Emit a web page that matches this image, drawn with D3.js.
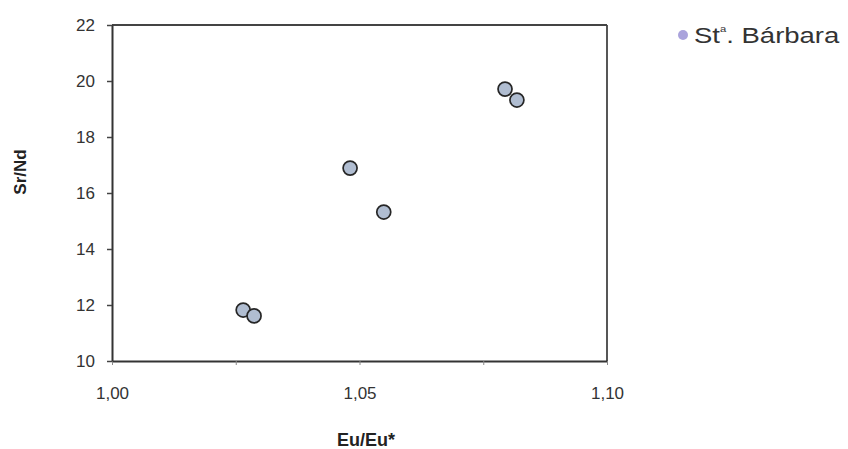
<!DOCTYPE html>
<html><head><meta charset="utf-8">
<script src="https://cdn.jsdelivr.net/npm/d3@7"></script>
<style>body{margin:0;background:#fff}svg{display:block}</style>
</head><body>
<svg id="c" width="848" height="449"></svg>
<script>
const seriesName = "St";
const euEu = [1.0265, 1.0287, 1.0481, 1.0549, 1.0794, 1.0818];
const srNd = [11.82, 11.61, 16.89, 15.32, 19.71, 19.32];
const xTicks = [1.00, 1.025, 1.05, 1.075, 1.10];
const xLabels = ["1,00", "", "1,05", "", "1,10"];
const yTicks = [10, 12, 14, 16, 18, 20, 22];

const svg = d3.select("#c");
const m = {l:112, r:607, t:25, b:361};
const x = d3.scaleLinear().domain([1.0, 1.1]).range([m.l, m.r]);
const y = d3.scaleLinear().domain([10, 22]).range([m.b, m.t]);
const font = "Liberation Sans, Arial, sans-serif";

// frame top/right
svg.append("line").attr("x1", m.l).attr("x2", m.r).attr("y1", m.t).attr("y2", m.t).attr("stroke", "#444").attr("stroke-width", 1.8);
svg.append("line").attr("x1", m.r).attr("x2", m.r).attr("y1", m.t).attr("y2", m.b).attr("stroke", "#444").attr("stroke-width", 1.8);

const xa = svg.append("g").attr("transform", `translate(0,${m.b})`)
  .call(d3.axisBottom(x).tickValues(xTicks).tickSize(4).tickSizeOuter(0).tickPadding(22)
    .tickFormat((d,i) => xLabels[i]));
const ya = svg.append("g").attr("transform", `translate(${m.l},0)`)
  .call(d3.axisLeft(y).tickValues(yTicks).tickSize(5).tickSizeOuter(0).tickPadding(12));
[xa, ya].forEach(g => {
  g.select(".domain").attr("stroke", "#333").attr("stroke-width", 2);
  g.selectAll(".tick text").attr("font-family", font).attr("font-size", 17).attr("fill", "#333");
});
ya.selectAll(".tick line").attr("stroke", "#444").attr("stroke-width", 1.5);
xa.selectAll(".tick line").attr("stroke", "#888").attr("stroke-width", 1);
ya.selectAll(".tick text").attr("dy", "0.35em");

svg.selectAll("circle.pt").data(euEu.map((v,i)=>[v, srNd[i]])).enter().append("circle")
  .attr("class","pt")
  .attr("cx", d => x(d[0])).attr("cy", d => y(d[1])).attr("r", 7)
  .attr("fill", "#b0bdd1").attr("stroke", "#262626").attr("stroke-width", 1.7);

svg.append("text").attr("x", 366).attr("y", 446).attr("text-anchor", "middle")
  .attr("font-family", font).attr("font-size", 18).attr("font-weight", "bold").attr("fill", "#222")
  .text("Eu/Eu*");
svg.append("text").attr("transform", `translate(26,172) rotate(-90)`).attr("text-anchor", "middle")
  .attr("font-family", font).attr("font-size", 17).attr("font-weight", "bold").attr("fill", "#222")
  .text("Sr/Nd");

// legend
svg.append("circle").attr("cx", 683).attr("cy", 35).attr("r", 5).attr("fill", "#aaa3dc");
const lt = svg.append("text").attr("transform", "translate(694,43) scale(1.25,1)")
  .attr("font-family", font).attr("font-size", 22).attr("fill", "#333");
lt.append("tspan").text(seriesName);
lt.append("tspan").attr("font-size", 9).attr("dy", -11).text("a");
lt.append("tspan").attr("dy", 11).text(". Bárbara");
</script>
</body></html>
